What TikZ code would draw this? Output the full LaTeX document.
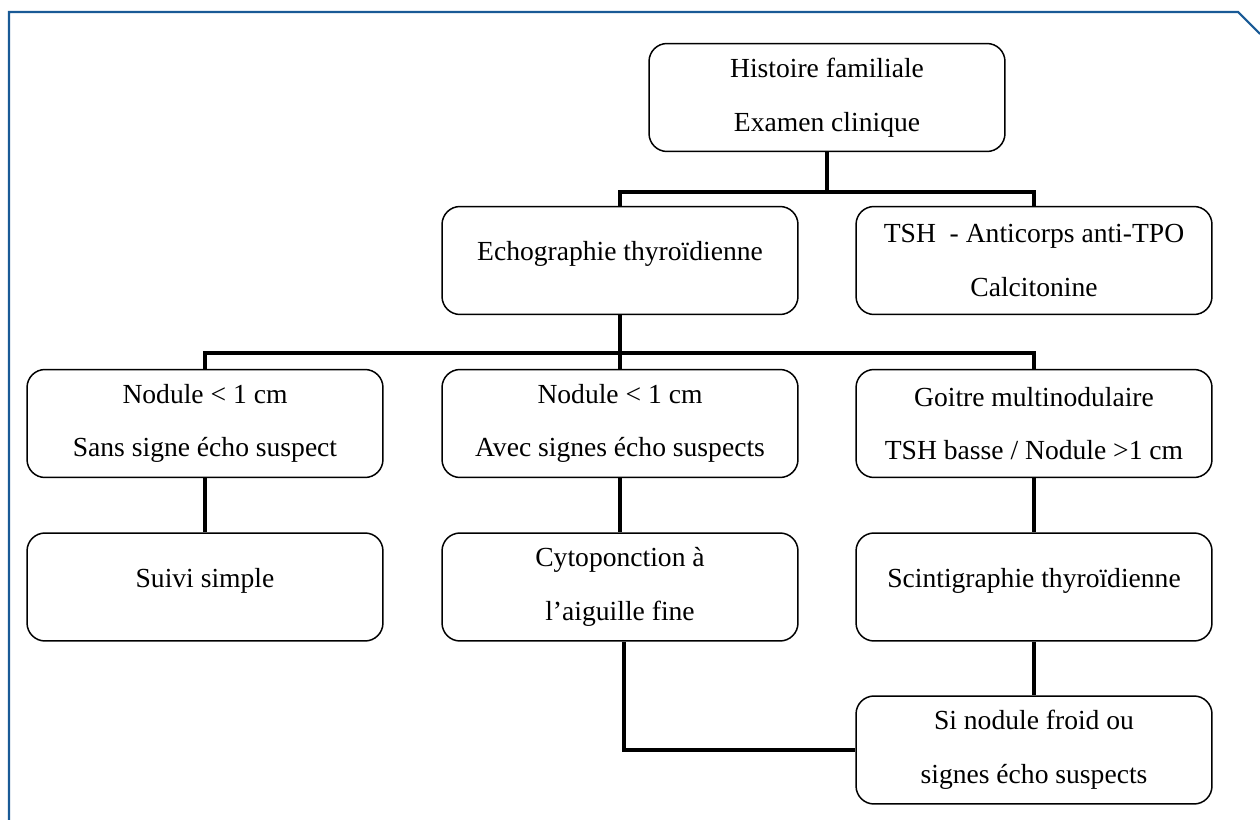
\documentclass[tikz,border=0pt]{standalone}
\usepackage{fontspec}
\setmainfont{Liberation Serif}
\definecolor{frameblue}{RGB}{25,90,150}

\def\boxw{7.12cm}
\def\boxh{2.16cm}

\begin{document}
\begin{tikzpicture}[x=0.02cm, y=-0.02cm, font=\fontsize{15.7}{30.6}\selectfont]
    \tikzstyle{box}=[rectangle, draw, rounded corners=0.36cm, line width=0.85pt, minimum width=\boxw, minimum height=\boxh, align=center, inner sep=0pt]
    \tikzstyle{oneline}=[text height=12pt, text depth=12pt]
    \tikzstyle{link}=[line width=2.7pt]
    \tikzstyle{frame}=[line width=1.2pt, draw=frameblue]

    \useasboundingbox (0,0) rectangle (1260,820);

    % Draw the frame round the page
    \draw[frame] (9,820) -- (9,12) -- (1238,12) -- (1260,34);

    % Draw the first two rows
    \node[box] (T) at (827,97.5) {Histoire familiale\\Examen clinique};
    \node[box, oneline] (E) at (620,260.5) {Echographie thyroïdienne};
    \node[box] (B) at (1034,260.5) {TSH\ \ - Anticorps anti-TPO\\Calcitonine};

    % Draw the nodule row
    \node[box] (N-1) at (205,423.5) {Nodule < 1 cm\\Sans signe écho suspect};
    \node[box] (N-2) at (620,423.5) {Nodule < 1 cm\\Avec signes écho suspects};
    \node[box] (N-3) at (1034,423.5) {Goitre multinodulaire\\TSH basse / Nodule >1 cm};

    % Draw the next steps
    \node[box, oneline] (A-1) at (205,587) {Suivi simple};
    \node[box] (A-2) at (620,587) {Cytoponction à\\l'aiguille fine};
    \node[box, oneline] (A-3) at (1034,587) {Scintigraphie thyroïdienne};
    \node[box] (F) at (1034,750) {Si nodule froid ou\\signes écho suspects};

    % Bus lines
    \coordinate (b1) at (827,192);
    \coordinate (b2) at (620,353);

    % Connect the boxes
    \draw[link] (T) -- (b1);
    \draw[link] (E.north) |- (b1) -| (B.north);
    \draw[link] (E) -- (N-2);
    \draw[link] (N-1.north) |- (b2) -| (N-3.north);
    \foreach \a / \b in {N-1/A-1, N-2/A-2, N-3/A-3, A-3/F}
        \draw[link] (\a) -- (\b);
    \draw[link] ([xshift=0.08cm]A-2.south) |- (F.west);
\end{tikzpicture}
\end{document}
